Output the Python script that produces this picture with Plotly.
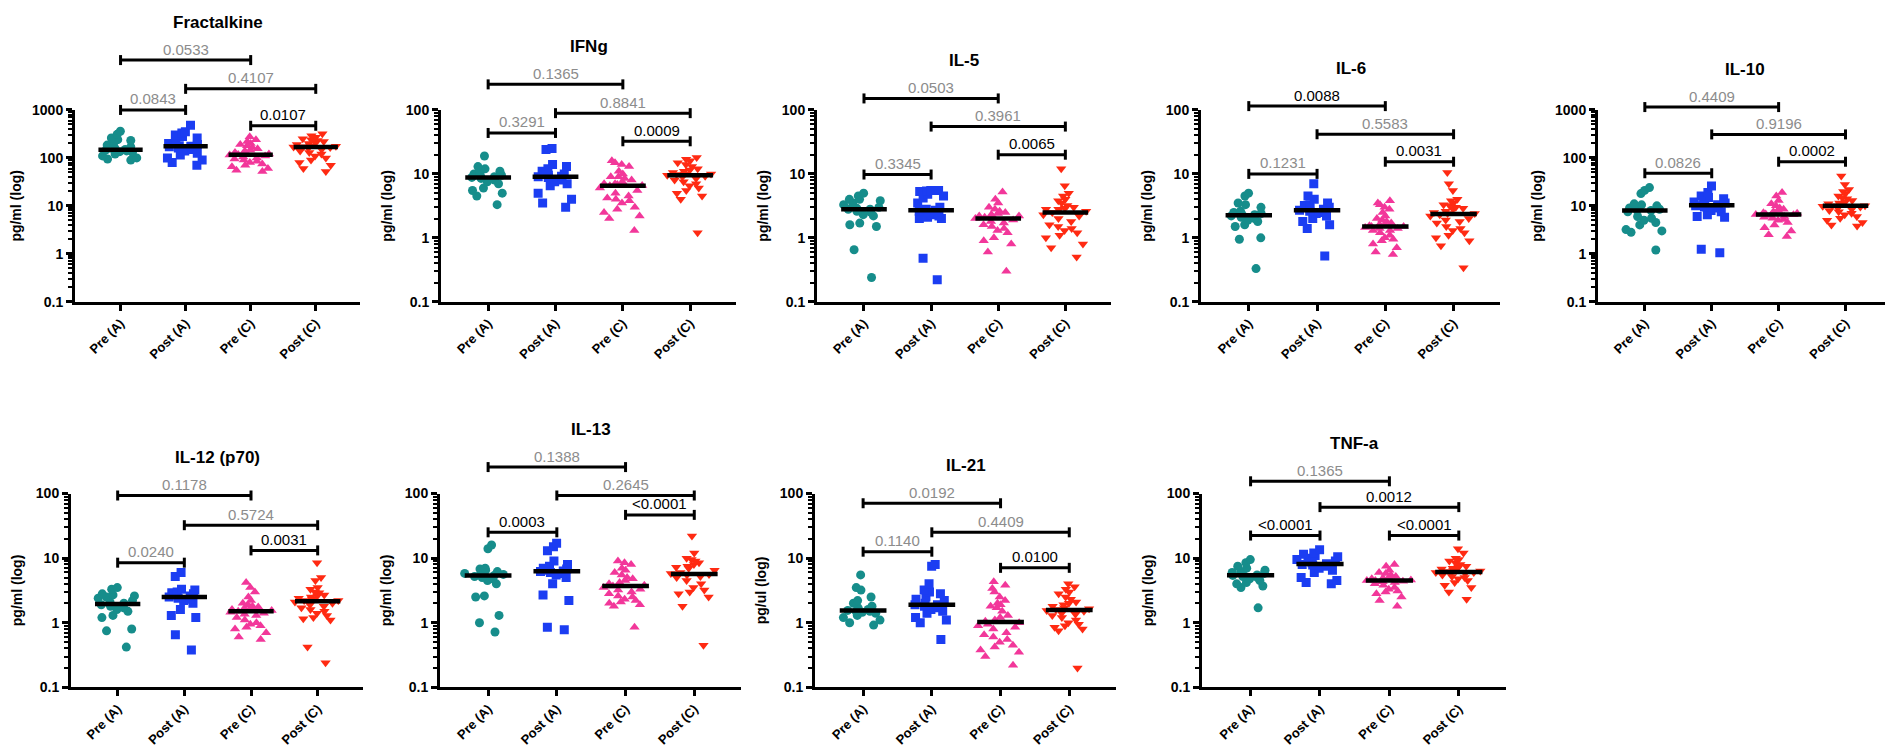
import numpy as np
import plotly.graph_objects as go

##### Data #####
GROUPS = ["Pre (A)", "Post (A)", "Pre (C)", "Post (C)"]
PANELS = ["Fractalkine", "IFNg", "IL-5", "IL-6", "IL-10",
          "IL-12 (p70)", "IL-13", "IL-21", "TNF-a"]
Y_TITLES = ["pg/ml (log)"] * 7 + ["pg/ul (log)", "pg/ml (log)"]

# one list per group: Pre (A), Post (A), Pre (C), Post (C)
FRACTALKINE = [
    [360, 310, 260, 240, 230, 200, 185, 170, 160, 150, 147, 145, 140, 135, 130, 120, 110, 100, 95, 90],
    [480, 350, 330, 300, 280, 260, 220, 200, 190, 180, 175, 170, 160, 150, 140, 125, 115, 100, 90, 80, 70],
    [275, 240, 220, 200, 190, 180, 165, 155, 145, 140, 130, 125, 120, 118, 115, 110, 105, 100, 95, 90,
     85, 80, 75, 70, 65, 60, 55, 52],
    [320, 290, 270, 250, 240, 230, 220, 210, 200, 190, 180, 175, 170, 168, 165, 160, 150, 140, 130, 120,
     110, 100, 90, 80, 70, 60, 52],
]
IFNG = [
    [19, 13, 12, 11, 10.5, 10, 9.5, 9, 9, 8.8, 8.5, 8, 7.5, 7, 6, 5.5, 5, 4.5, 3.3],
    [25, 24, 14, 13, 12, 11, 10, 9.5, 9.2, 9, 8.8, 8, 7.5, 7, 6.5, 5, 4, 3.5, 3],
    [16, 15, 14, 13, 11, 10, 9, 9, 8.5, 8, 7.5, 7, 7, 6.8, 6.6, 6.5, 6, 5.5, 5, 4.5, 4.2, 4, 3.8, 3.5,
     3, 2.8, 2.5, 2.2, 2, 1.3],
    [18, 17, 16, 15, 14, 13, 12, 11.5, 11, 10.5, 10, 10, 9.8, 9.5, 9.2, 9, 8.5, 8, 7.5, 7, 6.5, 6, 5.5,
     5, 4.5, 4, 1.2],
]
IL5 = [
    [5, 4.5, 4, 4, 3.8, 3.5, 3.3, 3, 2.9, 2.8, 2.8, 2.6, 2.5, 2.3, 2.2, 1.7, 1.6, 1.5, 0.65, 0.24],
    [5.5, 5.5, 5.4, 5.3, 4.8, 4.5, 4.2, 3.5, 3, 2.8, 2.7, 2.6, 2.5, 2.4, 2.3, 2.2, 2.1, 2.0, 2.0, 0.48, 0.22],
    [5.2, 4, 3.5, 3, 2.8, 2.6, 2.5, 2.4, 2.3, 2.2, 2.2, 2.2, 2.1, 2.0, 1.9, 1.8, 1.7, 1.6, 1.5, 1.4,
     1.3, 1.2, 1.0, 0.9, 0.8, 0.6, 0.3],
    [12, 6.5, 5, 4.5, 4, 3.8, 3.5, 3.2, 3, 2.9, 2.8, 2.8, 2.8, 2.6, 2.5, 2.3, 2.2, 2, 1.8, 1.6, 1.5,
     1.4, 1.3, 1.2, 1.1, 1.0, 0.8, 0.7, 0.5],
]
IL6 = [
    [5, 4.5, 3.5, 3.3, 3, 2.6, 2.5, 2.4, 2.3, 2.3, 2.2, 2.1, 2, 1.9, 1.8, 1.6, 1.5, 1, 0.95, 0.33],
    [7, 4.5, 4, 3.5, 3.3, 3.2, 3, 2.9, 2.8, 2.7, 2.6, 2.5, 2.4, 2.2, 2, 1.8, 1.6, 1.4, 0.52],
    [3.8, 3.5, 3.3, 3, 2.8, 2.5, 2.2, 2, 1.9, 1.8, 1.7, 1.6, 1.6, 1.55, 1.55, 1.5, 1.5, 1.45, 1.4, 1.4,
     1.3, 1.3, 1.2, 1.1, 1, 0.95, 0.9, 0.8, 0.7, 0.6, 0.55],
    [10.5, 7, 5.5, 4, 3.8, 3.5, 3.3, 3.2, 3, 2.9, 2.8, 2.6, 2.5, 2.4, 2.4, 2.3, 2.2, 2.0, 1.9, 1.8,
     1.7, 1.5, 1.4, 1.3, 1.2, 1.1, 1.0, 0.9, 0.75, 0.34],
]
IL10 = [
    [24, 21, 18, 11, 10.5, 10, 9.5, 9, 8.5, 8.2, 8, 7.5, 6, 5.5, 5, 4.5, 4, 3.2, 3, 2.8, 1.2],
    [26, 19, 16, 15, 14, 13, 12, 11.5, 11, 10.5, 10, 9.5, 9, 8, 7.5, 6.5, 6, 5.8, 1.25, 1.05],
    [19, 16, 13, 11, 10, 9, 8.5, 8, 7.5, 7.2, 7, 7, 6.8, 6.6, 6.5, 6.3, 6, 5.8, 5.5, 5.2, 5, 4.5, 4,
     3.5, 3, 2.5, 2.3],
    [42, 28, 22, 20, 18, 16, 15, 14, 13, 12, 11.5, 11, 10.5, 10, 10, 9.8, 9.5, 9, 8.5, 8, 7.5, 7, 6.5,
     6, 5.5, 5, 4.5, 4, 3.8],
]
IL12 = [
    [3.5, 3.3, 2.8, 2.7, 2.6, 2.5, 2.4, 2.2, 2.1, 2.0, 1.9, 1.8, 1.7, 1.6, 1.5, 1.3, 1.2, 0.8, 0.75, 0.42],
    [6, 5.2, 3.3, 3.2, 3, 2.9, 2.8, 2.7, 2.6, 2.5, 2.4, 2.3, 2.2, 2.0, 1.6, 1.3, 1.2, 0.65, 0.38],
    [4.2, 3.5, 3, 2.5, 2.2, 2.0, 1.9, 1.8, 1.75, 1.7, 1.65, 1.6, 1.6, 1.55, 1.5, 1.45, 1.4, 1.35, 1.3,
     1.2, 1.1, 1.0, 0.95, 0.9, 0.85, 0.8, 0.7, 0.6, 0.55],
    [8.5, 5, 4.5, 3.5, 3.3, 3, 2.9, 2.7, 2.6, 2.5, 2.4, 2.3, 2.2, 2.2, 2.1, 2.0, 1.9, 1.8, 1.7, 1.6,
     1.5, 1.4, 1.3, 1.2, 1.15, 1.1, 0.42, 0.24],
]
IL13 = [
    [16, 14, 7, 6.8, 6.5, 6.2, 6, 5.8, 5.6, 5.5, 5.4, 5.2, 5, 4.8, 4.5, 4, 2.6, 2.5, 1.3, 1.0, 0.72],
    [17, 15, 13, 9, 8, 7.5, 7, 6.8, 6.5, 6.3, 6.2, 6, 5.8, 5.5, 5, 4, 2.7, 2.2, 0.85, 0.78],
    [9, 8.5, 8, 7, 6.5, 6, 5.5, 5, 4.8, 4.5, 4.2, 4, 3.9, 3.8, 3.7, 3.5, 3.3, 3.2, 3, 2.8, 2.6, 2.5,
     2.3, 2.2, 2.1, 2, 1.9, 1.8, 0.85],
    [22, 12, 10, 9.5, 9, 8.5, 8, 7.5, 7.2, 7, 6.5, 6, 5.8, 5.6, 5.5, 5.2, 5, 4.5, 4, 3.5, 3.2, 3, 2.8,
     2.5, 1.8, 0.45],
]
IL21 = [
    [5.5, 3.5, 3.2, 2.5, 2.2, 2.0, 1.8, 1.7, 1.6, 1.55, 1.5, 1.5, 1.45, 1.4, 1.3, 1.2, 1.1, 1.0, 0.92],
    [8, 7.5, 4, 3.2, 3, 2.8, 2.5, 2.3, 2.2, 2.0, 1.9, 1.9, 1.8, 1.7, 1.6, 1.5, 1.4, 1.2, 1.1, 1.0, 0.55],
    [4.3, 3.8, 3.4, 3, 2.5, 2.2, 2.0, 1.9, 1.8, 1.7, 1.5, 1.3, 1.2, 1.1, 1.05, 1.05, 1.0, 0.95, 0.9,
     0.85, 0.8, 0.7, 0.65, 0.6, 0.55, 0.5, 0.45, 0.42, 0.38, 0.35, 0.3, 0.22],
    [4, 3.6, 3.3, 3, 2.8, 2.5, 2.3, 2.1, 2.0, 1.9, 1.8, 1.7, 1.65, 1.6, 1.55, 1.5, 1.4, 1.35, 1.3, 1.2,
     1.1, 1.0, 0.95, 0.9, 0.85, 0.8, 0.75, 0.2],
]
TNFA = [
    [9.5, 8.5, 7.5, 7, 6.5, 6.2, 6, 5.8, 5.6, 5.5, 5.4, 5.2, 5, 4.8, 4.5, 4.2, 4, 3.7, 3.5, 1.7],
    [13.5, 12, 11.5, 11, 10.5, 10, 9.5, 9, 8.5, 8.2, 8, 7.8, 7.5, 7, 6.5, 6, 5, 4.5, 4.2, 4],
    [8, 7.5, 6.5, 6, 5.8, 5.5, 5.2, 5, 4.9, 4.8, 4.7, 4.6, 4.5, 4.5, 4.4, 4.3, 4.2, 4, 3.8, 3.5, 3.3,
     3.1, 3, 2.8, 2.5, 2.2, 1.8],
    [14, 12, 10, 9.5, 9, 8.5, 8, 7.5, 7.2, 7, 6.8, 6.5, 6.3, 6.2, 6, 6, 5.9, 5.8, 5.5, 5.2, 5, 4.8,
     4.5, 4.2, 3.8, 3.5, 3, 2.3],
]
PANEL_DATA = [FRACTALKINE, IFNG, IL5, IL6, IL10, IL12, IL13, IL21, TNFA]

# comparisons: Pre(A)-Pre(C), Post(A)-Post(C), Pre(C)-Post(C), Pre(A)-Post(A)
PAIRS = [(0, 2), (1, 3), (2, 3), (0, 1)]
P_VALUES = [
    ["0.0533", "0.4107", "0.0107", "0.0843"],
    ["0.1365", "0.8841", "0.0009", "0.3291"],
    ["0.0503", "0.3961", "0.0065", "0.3345"],
    ["0.0088", "0.5583", "0.0031", "0.1231"],
    ["0.4409", "0.9196", "0.0002", "0.0826"],
    ["0.1178", "0.5724", "0.0031", "0.0240"],
    ["0.1388", "0.2645", "<0.0001", "0.0003"],
    ["0.0192", "0.4409", "0.0100", "0.1140"],
    ["0.1365", "0.0012", "<0.0001", "<0.0001"],
]
ALPHA = 0.05 / 4

##### Layout settings #####
FIG_W, FIG_H = 1893, 748
Y_TOP_LOG = [3, 2, 2, 2, 3, 2, 2, 2, 2]
# bracket heights (log10 of pg/ml), same order as PAIRS
BRACKET_LOG = [
    [4.04, 3.44, 2.67, 3.00],
    [2.40, 1.95, 1.51, 1.64],
    [2.18, 1.74, 1.30, 0.99],
    [2.06, 1.62, 1.19, 1.00],
    [3.06, 2.49, 1.92, 1.68],
    [1.97, 1.51, 1.12, 0.93],
    [2.41, 1.97, 1.67, 1.40],
    [1.85, 1.40, 0.85, 1.10],
    [2.19, 1.79, 1.35, 1.35],
]
X_PX = [(67, 352), (433, 728), (809, 1103), (1193, 1492), (1590, 1883),
        (63, 355), (432, 733), (807, 1108), (1194, 1498)]
ROW_PX = [(96, 292), (488, 686)]

COLORS = ["#168d8b", "#1b3df2", "#f2379a", "#ff2a12"]
SYMBOLS = ["circle", "square", "triangle-up", "triangle-down"]
SIZES = [9, 9, 9, 9]
FONT = "Liberation Sans"


def axis_names(k):
    n = "" if k == 0 else str(k + 1)
    return "x" + n, "y" + n, "xaxis" + n, "yaxis" + n


fig = go.Figure()
layout_axes = {}

for k, (name, data) in enumerate(zip(PANELS, PANEL_DATA)):
    xa, ya, xkey, ykey = axis_names(k)
    row = 0 if k < 5 else 1
    ytop = Y_TOP_LOG[k]

    for g, vals in enumerate(data):
        fig.add_trace(go.Box(
            y=vals, x0=g, name=GROUPS[g], boxpoints="all", jitter=1, pointpos=0, width=0.7,
            fillcolor="rgba(0,0,0,0)", line=dict(width=0, color="rgba(0,0,0,0)"),
            marker=dict(symbol=SYMBOLS[g], color=COLORS[g], size=SIZES[g]),
            xaxis=xa, yaxis=ya, showlegend=False, hoverinfo="y"))
    for g, vals in enumerate(data):
        med = float(np.median(vals))
        fig.add_trace(go.Scatter(
            x=[g - 0.34, g + 0.34], y=[med, med], mode="lines",
            line=dict(color="black", width=4.5), xaxis=xa, yaxis=ya,
            showlegend=False, hoverinfo="skip"))

    # significance brackets
    yref = ya + " domain"
    for (i, j), lvl, p in zip(PAIRS, BRACKET_LOG[k], P_VALUES[k]):
        yd = (lvl + 1) / (ytop + 1)
        bl = dict(color="black", width=3)
        fig.add_shape(type="line", xref=xa, yref=yref, x0=i, x1=j, y0=yd, y1=yd, line=bl)
        for xe in (i, j):
            fig.add_shape(type="line", xref=xa, yref=yref, x0=xe, x1=xe,
                          ysizemode="pixel", yanchor=yd, y0=-5, y1=5, line=bl)
        pv = float(p.replace("<", ""))
        fig.add_annotation(xref=xa, yref=yref, x=(i + j) / 2, y=yd, text=p,
                           showarrow=False, yanchor="middle", yshift=11,
                           font=dict(family=FONT, size=15,
                                     color="black" if pv < ALPHA else "#8c8c8c"))
    top = (max(BRACKET_LOG[k]) + 1) / (ytop + 1)
    fig.add_annotation(xref=xa + " domain", yref=yref, x=0.5, y=top, text="<b>%s</b>" % name,
                       showarrow=False, yanchor="middle", yshift=38,
                       font=dict(family=FONT, size=17, color="black"))

    x0, x1 = X_PX[k]
    ytop_px, ybot_px = ROW_PX[row]
    majors = [10.0 ** d for d in range(-1, ytop + 1)]
    minors = [m * 10.0 ** d for d in range(-1, ytop) for m in range(2, 10)]
    layout_axes[xkey] = dict(
        domain=[x0 / FIG_W, x1 / FIG_W], anchor=ya, type="linear", range=[-0.7, 3.68],
        tickvals=[0, 1, 2, 3], ticktext=GROUPS, tickangle=-45,
        ticks="outside", ticklen=6, tickwidth=2.5, tickcolor="black",
        tickfont=dict(family=FONT, size=13, color="black", weight="bold"),
        showline=True, linewidth=3, linecolor="black", showgrid=False, zeroline=False)
    layout_axes[ykey] = dict(
        domain=[1 - ybot_px / FIG_H, 1 - ytop_px / FIG_H], anchor=xa, type="log",
        range=[-1, ytop], tickmode="array", tickvals=majors,
        ticktext=["%g" % v for v in majors],
        ticks="outside", ticklen=6, tickwidth=2.5, tickcolor="black",
        minor=dict(tickmode="array", tickvals=minors, ticks="outside", ticklen=4,
                   tickwidth=1.5, tickcolor="black", showgrid=False),
        tickfont=dict(family=FONT, size=14, color="black", weight="bold"),
        title=dict(text=Y_TITLES[k], standoff=10,
                   font=dict(family=FONT, size=14, color="black", weight="bold")),
        showline=True, linewidth=3, linecolor="black", showgrid=False, zeroline=False)

fig.update_layout(
    width=FIG_W, height=FIG_H, margin=dict(l=0, r=0, t=0, b=0),
    paper_bgcolor="white", plot_bgcolor="white", showlegend=False,
    font=dict(family=FONT, color="black"), **layout_axes)

fig.write_html("out.html")
